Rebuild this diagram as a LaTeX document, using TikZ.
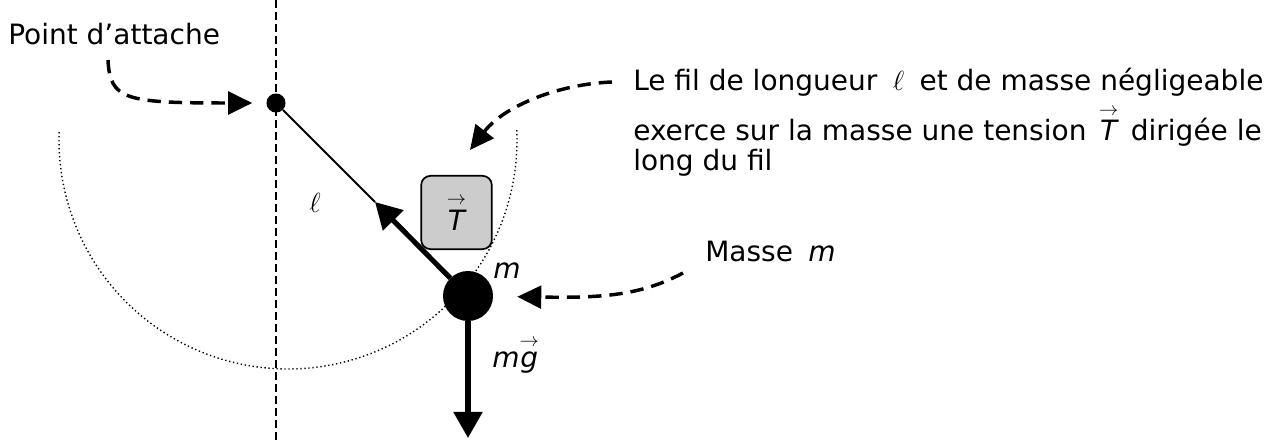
\documentclass[tikz,border=0pt]{standalone}
\usepackage{amsmath}
\usepackage{fontspec}
\setmainfont{DejaVu Sans}
\usetikzlibrary{arrows.meta}
\newcommand\arrowover[1]{\overset{\scriptstyle\rightarrow}{\textit{#1}}}
\begin{document}
\begin{tikzpicture}[x=0.75pt,y=-0.75pt,
  txt/.style={inner sep=0pt, anchor=base west, font=\fontsize{21}{25}\selectfont},
  lbl/.style={inner sep=0pt, font=\fontsize{21}{25}\selectfont},
  axisline/.style={line width=1.3pt, dash pattern=on 6pt off 3pt},
  swing/.style={line width=1.05pt, dash pattern=on 1pt off 2pt},
  wire/.style={line width=1.4pt},
  force/.style={line width=3.8pt, -{Triangle[length=19.5pt,width=21pt]}},
  callout/.style={line width=2.6pt, dash pattern=on 10pt off 6pt, -{Triangle[length=18pt,width=17pt]}},
  tbox/.style={draw, line width=1.3pt, fill=black!20, rounded corners=7pt, minimum width=53pt, minimum height=55pt, inner sep=0pt, font=\fontsize{21}{25}\selectfont}
]
\useasboundingbox (0,0) rectangle (1279,445);

% swing arc
\draw[swing] (288,140) ++(-2.5:229) arc[start angle=-2.5, end angle=182.3, radius=229];

% vertical axis
\coordinate (vtop) at (276,0);
\coordinate (vbot) at (276,441);
\draw[axisline] (vtop) -- (vbot);

% pivot and mass
\node[circle, fill, inner sep=0pt, minimum size=14.3pt] (P) at (276,103) {};
\node[circle, fill, inner sep=0pt, minimum size=37.5pt] (M) at (468,296) {};
\coordinate (Ttip) at (375,202);
\coordinate (Gtip) at (468,438);

\draw[wire] (P) -- (Ttip);
\draw[force] (M) -- (Ttip);
\draw[force] (M) -- (Gtip);

% tension box
\node[tbox] (Tb) at (456.5,212.5) {$\arrowover{T}$};

% labels
\node[lbl] (ell) at (315,203) {$\ell$};
\node[txt] (mlab) at (493,279) {\textit{m}};
\node[txt] (mglab) at (492,368) {$\textit{m}\arrowover{g}$};

\node[txt] (pa) at (8,45) {Point d’attache};
\node[txt] (L1) at (633,91) {Le fil de longueur\hspace{0.55em}$\ell$\hspace{0.55em}et de masse négligeable};
\node[txt] (L2) at (633,141) {exerce sur la masse une tension\hspace{0.45em}$\arrowover{T}$\hspace{0.45em}dirigée le};
\node[txt] (L3) at (633,171) {long du fil};
\node[txt] (ms) at (705,262) {Masse\hspace{0.55em}\textit{m}};

% callouts
\coordinate (s1) at (108,60);
\coordinate (s2) at (612,82);
\coordinate (t2) at (470,150);
\coordinate (s3) at (683,273);
\draw[callout, shorten >=10.5pt] (s1) .. controls (110,100) and (125,103) .. (P);
\draw[callout] (s2) .. controls (560,84) and (505,105) .. (t2);
\draw[callout, shorten >=18pt] (s3) .. controls (640,296) and (600,298) .. (M);
\end{tikzpicture}
\end{document}
